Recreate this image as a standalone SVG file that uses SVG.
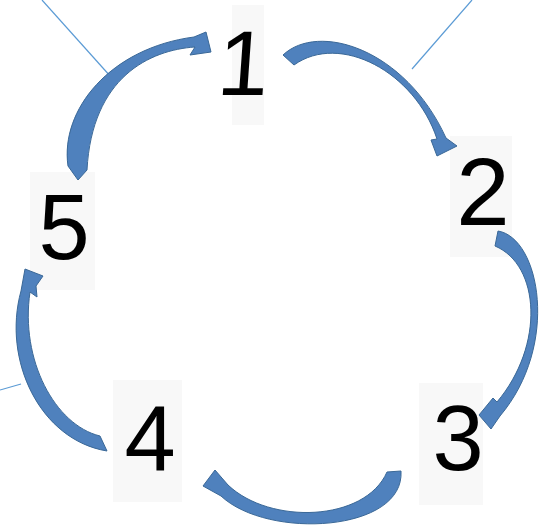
<svg xmlns="http://www.w3.org/2000/svg" width="541" height="526" viewBox="0 0 541 526">
  <style>
    .box { fill: #f8f8f8; stroke: none; }
    .num { font-family: "Liberation Sans", Arial, sans-serif; font-size: 92px; fill: #000; text-anchor: middle; }
    .arrow { fill: #4f81bd; stroke: #3a6897; stroke-width: 1; stroke-linejoin: round; }
    .thin { stroke: #5b9bd5; stroke-width: 1.2; fill: none; }
  </style>
  <rect width="541" height="526" fill="#ffffff"/>
  <g id="thin-lines">
    <line class="thin" x1="42" y1="0" x2="111" y2="77"/>
    <line class="thin" x1="472" y1="0" x2="412" y2="69"/>
    <line class="thin" x1="0" y1="390" x2="21" y2="384"/>
  </g>
  <g id="node-1">
    <rect class="box" x="232" y="5" width="32" height="120"/>
    <text class="num" x="244" y="95" transform="translate(4 0) skewX(-4)">1</text>
  </g>
  <g id="node-2">
    <rect class="box" x="450" y="136" width="62" height="121"/>
    <text class="num" x="483" y="225" style="font-size:96px">2</text>
  </g>
  <g id="node-3">
    <rect class="box" x="419" y="383" width="64" height="122"/>
    <text class="num" x="458" y="470">3</text>
  </g>
  <g id="node-4">
    <rect class="box" x="113" y="380" width="69" height="122"/>
    <text class="num" x="150" y="470">4</text>
  </g>
  <g id="node-5">
    <rect class="box" x="30" y="172" width="65" height="118"/>
    <text class="num" x="64" y="259">5</text>
  </g>
  <g id="connectors">
    <path class="arrow" d="M 68,166 C 60,110 110,48 194,37 L 206,32 L 211,52 L 190,55 L 195,47 C 150,50 92,77 87,170 L 78,180 Z"/>
    <path class="arrow" d="M 283,55 C 318,22 405,48 446,138 L 457,146 L 437,156 L 431,140 L 437,139 C 415,72 340,32 294,65 Z"/>
    <path class="arrow" d="M 498,231 C 540,238 560,345 500,416 L 491,429 L 479,415 L 493,398 L 497,402 C 545,345 540,265 495,246 Z"/>
    <path class="arrow" d="M 401,471 C 405,532 268,540 221,496 L 203,486 L 215,470 L 228,485 C 270,525 365,522 387,472 Z"/>
    <path class="arrow" d="M 107,451 C 40,440 2,360 21,291 L 25,269 L 43,276 L 36,286 L 37,297 L 30,292 C 20,360 55,425 100,436 Z"/>
  </g>
</svg>
